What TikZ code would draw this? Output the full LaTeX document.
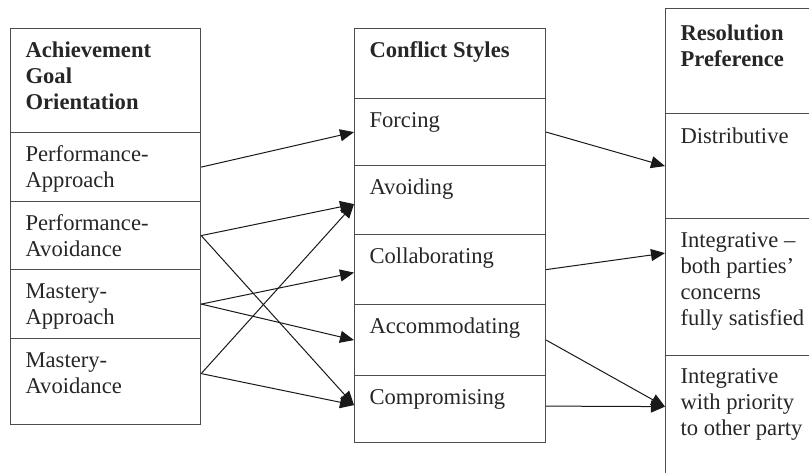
\documentclass[tikz,border=0pt]{standalone}
\usepackage{fontspec}
\setmainfont{Liberation Serif}
\usetikzlibrary{arrows.meta,calc}
\newcommand\celltext[4]{\parbox[t][#1][t]{#2}{\raggedright\vspace*{#3}\strut#4}}
\tikzset{
  cell/.style={draw=black!70, line width=1.2pt, inner xsep=15pt, inner ysep=0pt,
    anchor=north west, font=\fontsize{22.6pt}{26pt}\selectfont, text=black!85},
  arr/.style={draw=black!90, line width=1pt, -{Triangle[length=14pt,width=12pt]}}
}
\begin{document}
\begin{tikzpicture}[x=1pt,y=-1pt]
\useasboundingbox (0,0) rectangle (809,473);
\clip (0,0) rectangle (809,473);
% left column
\node[cell] (aghead) at (10,28) {\celltext{104pt}{160pt}{10.3pt}{\bfseries Achievement\\Goal\\Orientation}};
\node[cell] (pa)  at (10,132) {\celltext{69pt}{160pt}{10.3pt}{Performance-\\Approach}};
\node[cell] (pav) at (10,201) {\celltext{68pt}{160pt}{10.3pt}{Performance-\\Avoidance}};
\node[cell] (map) at (10,269) {\celltext{69pt}{160pt}{10.3pt}{Mastery-\\Approach}};
\node[cell] (mav) at (10,338) {\celltext{86pt}{160pt}{10.3pt}{Mastery-\\Avoidance}};
% middle column
\node[cell] (cshead) at (354,28) {\celltext{70pt}{161pt}{11pt}{\bfseries Conflict Styles}};
\node[cell] (forc)  at (354,98)  {\celltext{67pt}{161pt}{10.8pt}{Forcing}};
\node[cell] (avoid) at (354,165) {\celltext{69pt}{161pt}{10.8pt}{Avoiding}};
\node[cell] (coll)  at (354,234) {\celltext{70pt}{161pt}{10.8pt}{Collaborating}};
\node[cell] (accom) at (354,304) {\celltext{71pt}{161pt}{10.8pt}{Accommodating}};
\node[cell] (comp)  at (354,375) {\celltext{67pt}{161pt}{10.8pt}{Compromising}};
% right column
\node[cell] (rphead) at (665,8)  {\celltext{105pt}{140pt}{14pt}{\bfseries Resolution\\Preference}};
\node[cell] (dist)   at (665,113) {\celltext{105pt}{140pt}{11.5pt}{Distributive}};
\node[cell] (intb)   at (665,218) {\celltext{137pt}{140pt}{10.8pt}{Integrative --\\both parties'\\concerns\\fully satisfied}};
\node[cell] (intp)   at (665,355) {\celltext{130pt}{140pt}{10pt}{Integrative\\with priority\\to other party}};
% connectors left -> middle
\draw[arr] (pa.east) -- (forc.west);
\draw[arr] (pav.east) -- ($(avoid.west)+(0,4)$);
\draw[arr] (pav.east) -- ($(comp.west)+(0,-4)$);
\draw[arr] (map.east) -- ($(coll.west)+(0,3)$);
\draw[arr] (map.east) -- (accom.west);
\draw[arr] ($(mav.east)+(0,-8)$) -- ($(avoid.west)+(0,4)$);
\draw[arr] ($(mav.east)+(0,-8)$) -- ($(comp.west)+(0,-4)$);
% connectors middle -> right
\draw[arr] (forc.east) -- (dist.west);
\draw[arr] (coll.east) -- ($(intb.west)+(0,-34)$);
\draw[arr] (accom.east) -- ($(intp.west)+(0,-14)$);
\draw[arr] ($(comp.east)+(0,-3)$) -- ($(intp.west)+(0,-14)$);
\end{tikzpicture}
\end{document}
